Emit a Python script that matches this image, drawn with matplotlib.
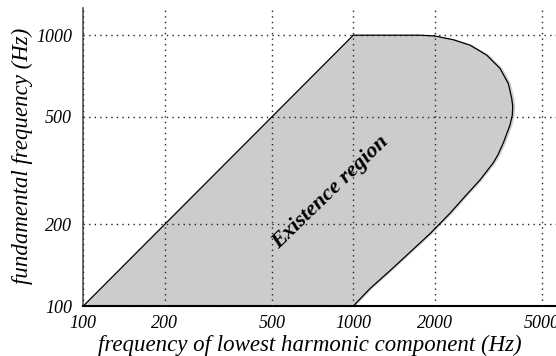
import matplotlib
matplotlib.use("Agg")
import matplotlib.pyplot as plt
import matplotlib.transforms as mtransforms

# diagonal edge: fundamental equals the lowest component
diag_f = [100, 1000]
diag_f0 = [100, 1000]

# upper/right edge of the region, traced from (1000, 1000) round to (1000, 100)
edge_f = [1000, 1766, 2007, 2347, 2705, 3120, 3494, 3751, 3861, 3894, 3881,
          3805, 3594, 3435, 3300, 2946, 2593, 2281, 1924, 1622, 1367, 1153, 1000]
edge_f0 = [1000, 1000, 993, 962, 919, 844, 754, 663, 584, 547, 507,
           466, 400, 362, 338, 292, 254, 220, 185, 158, 135, 116, 100]

x_ticks = [100, 200, 500, 1000, 2000, 5000]
y_ticks = [100, 200, 500, 1000]

plt.rcParams["font.family"] = ["Liberation Serif", "DejaVu Serif"]

fig = plt.figure(figsize=(5.56, 3.56), dpi=100)
ax = fig.add_axes([0.1498, 0.1404, 0.8502, 0.8371])
ax.set_xscale("log")
ax.set_yscale("log")
ax.set_xlim(100, 5633)
ax.set_ylim(100, 1260)

poly_x = diag_f + edge_f[1:]
poly_y = diag_f0 + edge_f0[1:]

# soft shadow to the right, then the region itself
shadow = mtransforms.offset_copy(ax.transData, fig=fig, x=2.5, y=0, units="dots")
ax.fill(poly_x, poly_y, color="#cccccc", lw=0, transform=shadow, zorder=1)
ax.fill(poly_x, poly_y, color="#cccccc", lw=0, zorder=1)
ax.plot(diag_f, diag_f0, color="black", lw=0.9, zorder=3)
ax.plot(edge_f, edge_f0, color="black", lw=0.9, zorder=3)

ax.grid(True, which="major", linestyle=(0, (1, 3)), color="#222222", lw=1.0, zorder=2)
ax.set_axisbelow(False)
ax.minorticks_off()

ax.set_xticks(x_ticks)
ax.set_xticklabels([str(v) for v in x_ticks])
ax.set_yticks(y_ticks)
ax.set_yticklabels([str(v) for v in y_ticks])
ax.tick_params(length=0, labelsize=13)
ax.tick_params(axis="x", pad=6.5)
ax.tick_params(axis="y", pad=8)
for lbl in ax.get_xticklabels() + ax.get_yticklabels():
    lbl.set_fontstyle("italic")

ax.spines["top"].set_visible(False)
ax.spines["right"].set_visible(False)
ax.spines["left"].set_color("#555555")
ax.spines["left"].set_linewidth(1.2)
ax.spines["bottom"].set_color("black")
ax.spines["bottom"].set_linewidth(1.5)

ax.set_xlabel("frequency of lowest harmonic component (Hz)",
              fontsize=16.5, fontstyle="italic")
ax.xaxis.set_label_coords(0.48, -0.095)
ax.set_ylabel("fundamental frequency (Hz)", fontsize=16.5, fontstyle="italic")
ax.yaxis.set_label_coords(-0.106, 0.505)

ax.text(822, 263, "Existence region", rotation=44, rotation_mode="anchor",
        ha="center", va="center", fontsize=16, fontstyle="italic",
        fontweight="bold", zorder=4)

fig.savefig("out.png", dpi=100)
